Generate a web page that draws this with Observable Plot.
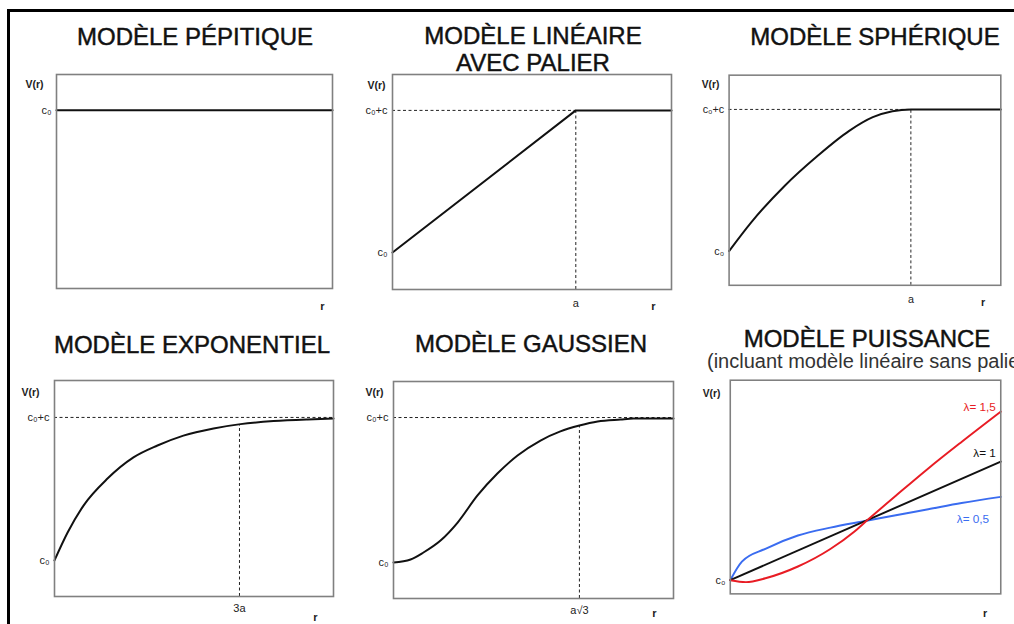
<!DOCTYPE html>
<html><head><meta charset="utf-8">
<script src="https://cdn.jsdelivr.net/npm/d3@7"></script>
<script src="https://cdn.jsdelivr.net/npm/@observablehq/plot@0.6"></script>
<style>
html,body{margin:0;padding:0;background:#fff;}
#page{position:relative;width:1014px;height:624px;overflow:hidden;font-family:"Liberation Sans",Arial,sans-serif;color:#111;}
.title{position:absolute;font-size:24px;line-height:27px;white-space:nowrap;transform:translateX(-50%);text-align:center;color:#111;-webkit-text-stroke:0.45px #111;}
.sub{position:absolute;font-size:20px;line-height:22px;white-space:nowrap;color:#333;}
.panel{position:absolute;}
.panel svg{overflow:visible;}
#border{position:absolute;left:7px;top:9px;width:1100px;height:700px;border-left:3px solid #000;border-top:3px solid #000;}
</style>
</head><body>
<div id="page"><div id="border"></div></div>
<script>
// ---------- data (r and V(r) in % of each panel's frame) ----------
const titles = ["MODÈLE PÉPITIQUE", "MODÈLE LINÉAIRE\nAVEC PALIER", "MODÈLE SPHÉRIQUE",
                "MODÈLE EXPONENTIEL", "MODÈLE GAUSSIEN", "MODÈLE PUISSANCE"];
const subtitle = "(incluant modèle linéaire sans palier)";

// pépitique
const pepR = [0, 100];
const pepV = [83.3, 83.3];
// linéaire avec palier
const linR = [0, 65.7, 100];
const linV = [17.2, 83.3, 83.3];
const linA = 65.7, linSill = 83.3;
// sphérique
const sphR = [0, 8.3, 20.5, 32.4, 44.2, 52.9, 60.1, 66.9, 100];
const sphV = [16.3, 30.2, 47.4, 61.4, 73.5, 80.0, 82.8, 83.7, 83.7];
const sphA = 66.9, sphSill = 83.7;
// exponentiel
const expR = [0, 4.7, 10.4, 19.0, 28.3, 36.9, 46.2, 57.0, 66.7, 78.5, 90.7, 100];
const expV = [16.7, 29.6, 42.1, 54.6, 64.4, 69.9, 74.5, 77.8, 79.8, 81.2, 82.0, 82.4];
const expA3 = 66.3, expSill = 82.9, expAtA3 = 79.6;
// gaussien
const gauR = [0, 6.1, 10.7, 16.8, 22.9, 30.0, 37.1, 44.3, 52.5, 59.6, 66.4, 72.9, 81.1, 85.7, 100];
const gauV = [16.6, 18.0, 21.2, 26.7, 35.0, 47.5, 57.6, 65.9, 72.8, 77.0, 79.7, 81.6, 82.5, 82.9, 83.0];
const gauA = 66.4, gauSill = 83.4, gauAtA = 79.7;
// puissance
const powLambda = ["λ= 1,5", "λ= 1", "λ= 0,5"];
const pow15R = [0, 5.8, 13.0, 25.0, 37.0, 45.7, 50.4, 61.2, 73.2, 85.5, 100];
const pow15V = [6.4, 5.5, 7.3, 12.8, 21.0, 29.0, 34.2, 45.9, 58.7, 71.1, 85.3];
const pow10R = [0, 100];
const pow10V = [6.4, 61.9];
const pow05R = [0, 4.3, 13.0, 25.0, 37.0, 50.4, 61.2, 73.2, 85.5, 100];
const pow05V = [6.4, 15.1, 21.1, 27.3, 31.0, 34.2, 36.8, 39.6, 42.5, 45.4];
const powC0 = 6.4;

// ---------- helpers ----------
const page = document.getElementById("page");
const M = {l: 62, r: 14, t: 14, b: 36};
const FONT = "'Liberation Sans', Arial, sans-serif";
const pts = (R, V) => R.map((r, i) => ({r, v: V[i]}));

function addTitle(text, cx, top) {
  const d = document.createElement("div");
  d.className = "title"; d.style.left = cx + "px"; d.style.top = top + "px";
  d.innerHTML = text.split("\n").join("<br>");
  page.appendChild(d);
}
function place(box, marks) {
  const fw = box.r - box.l, fh = box.b - box.t;
  const svg = Plot.plot({
    width: fw + M.l + M.r, height: fh + M.t + M.b,
    marginLeft: M.l, marginRight: M.r, marginTop: M.t, marginBottom: M.b,
    x: {domain: [0, 100], axis: null},
    y: {domain: [0, 100], axis: null},
    style: {fontFamily: FONT, fontSize: "10px", color: "#222", background: "transparent"},
    marks: [...marks, Plot.frame({stroke: "#808080", strokeWidth: 1.6})]
  });
  const div = document.createElement("div");
  div.className = "panel";
  div.style.left = (box.l - M.l) + "px"; div.style.top = (box.t - M.t) + "px";
  div.appendChild(svg); page.appendChild(div);
}
const yTicks = (vals, labs) => Plot.axisY(vals, {tickSize: 0, tickPadding: 5, label: null, fontSize: 11,
  tickFormat: (d, i) => labs[i]});
const xTicks = (vals, labs, pad) => Plot.axisX(vals, {tickSize: 0, tickPadding: pad, label: null, fontSize: 11,
  tickFormat: (d, i) => labs[i]});
const vLabel = (dx, dy) => Plot.text(["V(r)"], {x: 0, y: 100, text: d => d, dx, dy, textAnchor: "end", fontSize: 10.5, fontWeight: "bold", fill: "#222"});
const rLabel = (dx, dy) => Plot.text(["r"], {x: 100, y: 0, text: d => d, dx, dy, fontSize: 11, fontWeight: "bold", fill: "#222"});
const curve = (R, V, stroke = "#111", c = "monotone-x") => Plot.line(pts(R, V), {x: "r", y: "v", stroke, strokeWidth: 2, curve: c});
const dash = {stroke: "#222", strokeWidth: 1, strokeDasharray: "3,2.5"};

// ---------- titles ----------
addTitle(titles[0], 195, 23);
addTitle(titles[1], 533, 22);
addTitle(titles[2], 875, 23);
addTitle(titles[3], 192, 331);
addTitle(titles[4], 531, 330);
addTitle(titles[5], 867, 325);
const s = document.createElement("div");
s.className = "sub"; s.style.left = "707px"; s.style.top = "350px"; s.textContent = subtitle;
page.appendChild(s);

// ---------- panels ----------
// 1. pépitique
place({l: 56, r: 332, t: 74, b: 288}, [
  curve(pepR, pepV, "#111", "linear"),
  yTicks([pepV[0]], ["c₀"]),
  vLabel(-13, 10), rLabel(-10, 18)
]);
// 2. linéaire avec palier
place({l: 392, r: 671, t: 74, b: 289}, [
  Plot.ruleY([linSill], {x1: 0, x2: linA, ...dash}),
  Plot.ruleX([linA], {y1: 0, y2: linSill, ...dash}),
  curve(linR, linV, "#111", "linear"),
  yTicks([linV[0], linSill], ["c₀", "c₀+c"]),
  xTicks([linA], ["a"], 10),
  vLabel(-7, 11), rLabel(-18, 17)
]);
// 3. sphérique
place({l: 730, r: 1008, t: 75, b: 290}, [
  Plot.ruleY([sphSill], {x1: 0, x2: sphA, ...dash}),
  Plot.ruleX([sphA], {y1: 0, y2: sphSill, ...dash}),
  curve(sphR, sphV),
  yTicks([sphV[0], sphSill], ["c₀", "c₀+c"]),
  xTicks([sphA], ["a"], 10),
  vLabel(-10, 10), rLabel(-18, 18)
]);
// 4. exponentiel
place({l: 54, r: 333, t: 380, b: 596}, [
  Plot.ruleY([expSill], {x1: 0, x2: 100, ...dash}),
  Plot.ruleX([expA3], {y1: 0, y2: expAtA3, ...dash}),
  curve(expR, expV),
  yTicks([expV[0], expSill], ["c₀", "c₀+c"]),
  xTicks([expA3], ["3a"], 8),
  vLabel(-15, 12), rLabel(-18, 21)
]);
// 5. gaussien
place({l: 393, r: 673, t: 381, b: 598}, [
  Plot.ruleY([gauSill], {x1: 0, x2: 100, ...dash}),
  Plot.ruleX([gauA], {y1: 0, y2: gauAtA, ...dash}),
  curve(gauR, gauV),
  yTicks([gauV[0], gauSill], ["c₀", "c₀+c"]),
  xTicks([gauA], ["a√3"], 8),
  vLabel(-10, 11), rLabel(-19, 15)
]);
// 6. puissance
place({l: 731, r: 1007, t: 380, b: 598}, [
  curve(pow05R, pow05V, "#3a6cf0"),
  curve(pow10R, pow10V, "#111", "linear"),
  curve(pow15R, pow15V, "#e81c24"),
  Plot.text([powLambda[0]], {x: 98.2, y: 87.2, text: d => d, textAnchor: "end", fill: "#e81c24", fontSize: 12}),
  Plot.text([powLambda[1]], {x: 98.2, y: 65.6, text: d => d, textAnchor: "end", fill: "#111", fontSize: 12}),
  Plot.text([powLambda[2]], {x: 95.7, y: 34.9, text: d => d, textAnchor: "end", fill: "#3a6cf0", fontSize: 12}),
  yTicks([powC0], ["c₀"]),
  vLabel(-10, 14), rLabel(-16, 20)
]);
</script>
</body></html>
